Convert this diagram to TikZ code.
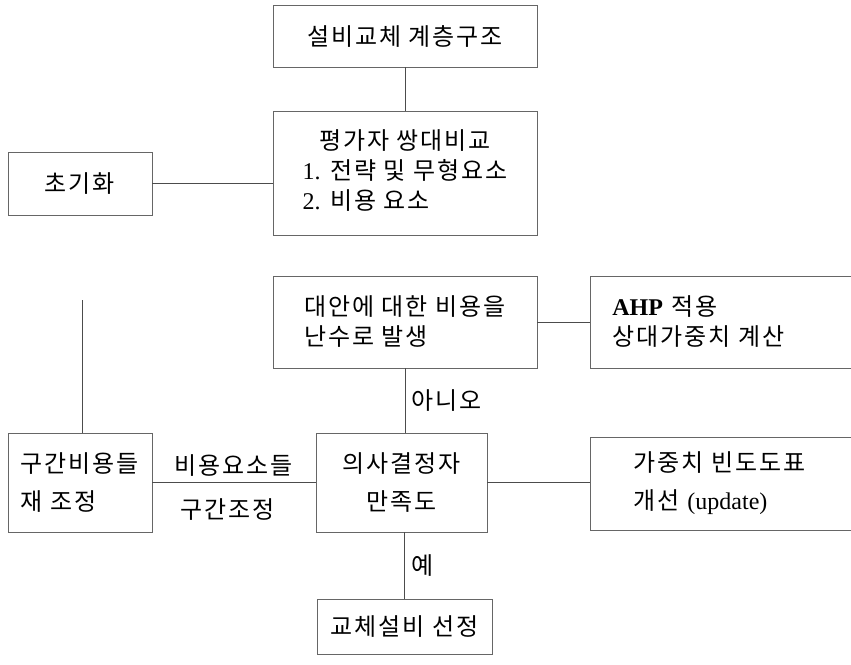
\documentclass[tikz,border=0pt]{standalone}
\usepackage{fontspec}
\setmainfont{Noto Sans CJK KR}[LetterSpace=8]
\newfontfamily\latin{Liberation Serif}
\begin{document}
\begin{tikzpicture}[x=1pt, y=-1pt,
    box/.style={draw=black!60, line width=0.7pt, inner sep=0pt},
    link/.style={draw=black!70, line width=0.7pt},
    every node/.style={font=\fontsize{24}{30}\selectfont}]
    \useasboundingbox (0,0) rectangle (851,664);

    % hierarchy and pairwise comparison
    \node[box, minimum width=264pt, minimum height=62pt] (hier) at (405,36) {설비교체 계층구조};
    \node[box, minimum width=264pt, minimum height=124pt] (pair) at (405,173) {\begin{tabular}{@{}l@{}}\multicolumn{1}{@{}c@{}}{평가자 쌍대비교}\\{\latin 1.} 전략 및 무형요소\\{\latin 2.} 비용 요소\end{tabular}};
    \node[box, minimum width=144pt, minimum height=63pt] (init) at (80,183.5) {초기화};
    \draw[link] (init.east) -- (init.east -| pair.west);
    \draw[link] (hier) -- (pair);

    % random costs and AHP
    \node[box, minimum width=264pt, minimum height=92pt, align=left] (rand) at (405,322) {대안에 대한 비용을\\난수로 발생};
    \node[box, anchor=west, minimum height=92pt, text width=236pt, inner xsep=22pt, align=left] (ahp) at (590,322) {{\latin\bfseries AHP} 적용\\상대가중치 계산};
    \draw[link] (rand.east) -- (ahp.west);

    % decision row
    \node[box, minimum width=144pt, minimum height=99pt, align=left] (cost) at (80,482.5) {구간비용들\\[8pt]재 조정};
    \node[box, minimum width=171pt, minimum height=99pt, align=center] (dm) at (401.5,482.5) {의사결정자\\[8pt]만족도};
    \node[box, anchor=west, minimum height=93pt, text width=194pt, inner xsep=43pt, align=left] (wgt) at (590,483.5) {가중치 빈도도표\\[8pt]개선 {\latin (update)}};
    \node[box, minimum width=175pt, minimum height=55pt] (sel) at (404.5,626.5) {교체설비 선정};

    \draw[link] (rand.south) -- node[right, xshift=3pt] (no) {아니오} (rand.south |- dm.north);
    \draw[link] (dm.west) -- node[above, yshift=2pt] (costlbl) {비용요소들} node[below, yshift=-12pt, xshift=-6pt] (rangelbl) {구간조정} (dm.west -| cost.east);
    \draw[link] (dm.east) -- (dm.east -| wgt.west);
    \draw[link] (sel.north |- dm.south) -- node[right, xshift=3pt] (yes) {예} (sel.north);

    % loop back from the cost intervals
    \coordinate (loop) at (82,300);
    \draw[link] (loop) -- (loop |- cost.north);
\end{tikzpicture}
\end{document}
